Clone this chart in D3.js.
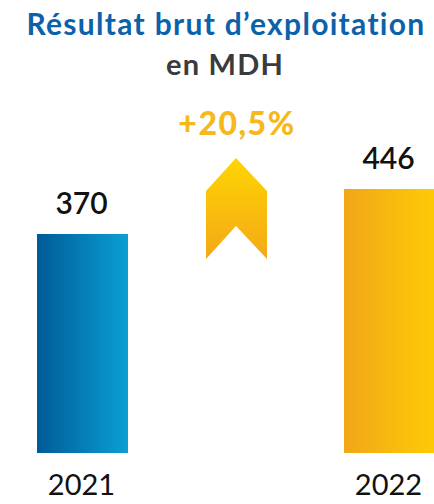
<!DOCTYPE html>
<html>
<head>
<meta charset="utf-8">
<script src="https://cdn.jsdelivr.net/npm/d3@7"></script>
<style>
  body { margin: 0; background: #fff; }
  text { font-family: Lato, "Noto Sans", sans-serif; }
</style>
</head>
<body>
<div id="chart"></div>
<script>
var years = ["2021", "2022"];
var values = [370, 446];
var growthLabel = "+20,5%";
var titleLine1 = "Résultat brut d\u2019exploitation";
var titleLine2 = "en MDH";

var width = 434, height = 504;
var baseY = 453;

var svg = d3.select("#chart")
    .append("svg")
    .attr("width", width)
    .attr("height", height);

var defs = svg.append("defs");

var blue = defs.append("linearGradient").attr("id", "gBlue")
    .attr("x1", "0%").attr("x2", "100%").attr("y1", "0%").attr("y2", "0%");
blue.append("stop").attr("offset", "0%").attr("stop-color", "#005b97");
blue.append("stop").attr("offset", "100%").attr("stop-color", "#0b9fd4");

var gold = defs.append("linearGradient").attr("id", "gGold")
    .attr("x1", "0%").attr("x2", "100%").attr("y1", "0%").attr("y2", "0%");
gold.append("stop").attr("offset", "0%").attr("stop-color", "#f2a619");
gold.append("stop").attr("offset", "100%").attr("stop-color", "#fccb05");

var arrowGrad = defs.append("linearGradient").attr("id", "gArrow")
    .attr("x1", "0%").attr("x2", "0%").attr("y1", "0%").attr("y2", "100%");
arrowGrad.append("stop").attr("offset", "0%").attr("stop-color", "#fed503");
arrowGrad.append("stop").attr("offset", "100%").attr("stop-color", "#f4a817");

var x = d3.scaleBand()
    .domain(years)
    .range([37, 435])
    .paddingInner(216 / 307)
    .paddingOuter(0);

var y = d3.scaleLinear()
    .domain([0, 446])
    .range([baseY, 189]);

var fills = ["url(#gBlue)", "url(#gGold)"];

// title
svg.append("text")
    .attr("x", 226).attr("y", 35)
    .attr("text-anchor", "middle")
    .style("font-size", "30px").style("font-weight", 700)
    .style("letter-spacing", "1.3px")
    .style("fill", "#0b62ab")
    .text(titleLine1);

svg.append("text")
    .attr("x", 225).attr("y", 75)
    .attr("text-anchor", "middle")
    .style("font-size", "29px").style("font-weight", 700)
    .style("letter-spacing", "1.2px")
    .style("fill", "#3b3b3b")
    .text(titleLine2);

// bars
svg.selectAll("rect.bar")
    .data(values)
    .enter().append("rect")
    .attr("class", "bar")
    .attr("x", (d, i) => x(years[i]))
    .attr("y", d => y(d))
    .attr("width", x.bandwidth())
    .attr("height", d => baseY - y(d))
    .style("fill", (d, i) => fills[i]);

// value labels
svg.selectAll("text.val")
    .data(values)
    .enter().append("text")
    .attr("class", "val")
    .attr("x", (d, i) => x(years[i]) + x.bandwidth() / 2 - 1)
    .attr("y", d => y(d) - 20)
    .attr("text-anchor", "middle")
    .style("font-size", "30px").style("font-weight", 600)
    .style("fill", "#111")
    .text(d => d);

// year labels
svg.selectAll("text.year")
    .data(years)
    .enter().append("text")
    .attr("class", "year")
    .attr("x", d => x(d) + x.bandwidth() / 2 - 1)
    .attr("y", 495)
    .attr("text-anchor", "middle")
    .style("font-size", "29px").style("font-weight", 400)
    .style("fill", "#111")
    .text(d => d);

// growth arrow
var ax = 236;
var arrow = d3.path();
arrow.moveTo(ax, 158);
arrow.lineTo(ax + 31, 191);
arrow.lineTo(ax + 31, 259);
arrow.lineTo(ax, 226);
arrow.lineTo(ax - 30, 259);
arrow.lineTo(ax - 30, 191);
arrow.closePath();

svg.append("path")
    .attr("d", arrow.toString())
    .style("fill", "url(#gArrow)");

svg.append("text")
    .attr("x", ax + 1).attr("y", 135)
    .attr("text-anchor", "middle")
    .style("font-size", "32px").style("font-weight", 900)
    .style("letter-spacing", "1.5px")
    .style("fill", "#f6b81a")
    .text(growthLabel);
</script>
</body>
</html>
